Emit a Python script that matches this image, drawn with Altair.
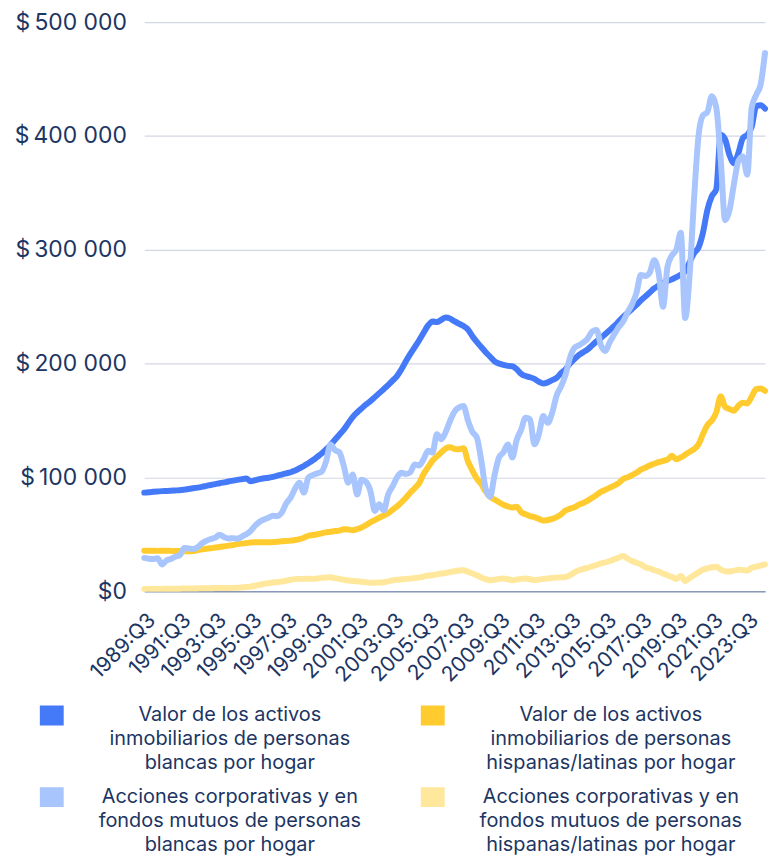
import altair as alt
import pandas as pd

# quarters from 1989:Q3 to 2024:Q3
quarters = [f"{1989 + (i + 2) // 4}:Q{(i + 2) % 4 + 1}" for i in range(141)]
tick_labels = quarters[::8]

series_names = [
    "Valor de los activos|inmobiliarios de personas|blancas por hogar",
    "Valor de los activos|inmobiliarios de personas|hispanas/latinas por hogar",
    "Acciones corporativas y en|fondos mutuos de personas|blancas por hogar",
    "Acciones corporativas y en|fondos mutuos de personas|hispanas/latinas por hogar",
]
colors = ["#4479f7", "#ffcb2f", "#a8c5fe", "#ffe79c"]

# values in thousands of dollars
white_real_estate = [
    86.6, 87, 87.3, 87.6, 87.9, 88.1, 88.3, 88.5, 88.7, 89.2,
    89.8, 90.4, 91, 91.7, 92.5, 93.3, 94.1, 94.8, 95.6, 96.4,
    97.1, 97.8, 98.4, 99, 96.5, 97.5, 98.5, 99.2, 99.7, 100.5,
    101.5, 102.5, 103.5, 104.5, 106, 108, 110, 112.5, 115, 118,
    121, 124.5, 128.5, 133, 137.5, 142, 147.5, 153, 157, 160.5,
    164, 167, 170.5, 174, 177.5, 181, 185, 189, 195, 202,
    208.5, 214.5, 220.5, 227, 233.5, 237, 236.5, 238.5, 240.5, 239.5,
    237, 235, 233, 230, 224, 219, 214.5, 210, 206, 202,
    200, 198.8, 198, 197.6, 195, 191, 189, 188, 186.5, 184,
    182.5, 183.5, 185.5, 187.5, 191.5, 195, 200, 204, 207.5, 210,
    212.5, 216, 219.5, 222.5, 226, 229.5, 233, 237, 241, 244.5,
    248, 251.5, 255.5, 259, 262.5, 266, 268.5, 271, 272.5, 274,
    276, 278, 281, 289, 297, 302, 315, 335, 347, 353,
    401, 397, 383, 376, 385, 398, 401, 408, 426, 427,
    424,
]
hispanic_real_estate = [
    35.6, 35.5, 35.5, 35.4, 35.5, 35.5, 35.4, 35.3, 35.2, 35.1,
    35, 35.2, 36, 36.8, 37.2, 37.7, 38.3, 38.8, 39.4, 40,
    40.6, 41.3, 41.8, 42.2, 42.8, 43, 42.9, 42.9, 42.9, 43.1,
    43.4, 43.8, 44.1, 44.4, 45, 45.8, 47, 48.7, 49.3, 50,
    50.8, 51.7, 52.2, 52.8, 53.2, 54.5, 54.2, 53.6, 54.5, 56,
    58, 60.5, 62.5, 64.5, 66.5, 68.5, 71.5, 74.5, 78, 82,
    86.5, 90.5, 95, 103, 109, 114.6, 118.5, 122, 125.5, 126.5,
    125, 124.8, 125.5, 114, 106, 99, 94, 87.5, 83, 80.5,
    78.1, 76, 74.5, 73.5, 74.3, 69.4, 67.5, 66, 65, 63.5,
    62, 62.5, 63.5, 65, 67.5, 70.8, 72.5, 73.7, 76, 77.5,
    79.5, 82, 84.5, 87.3, 89, 91, 92.8, 95, 98.5, 100,
    102, 104, 106.8, 108.5, 110.5, 112, 113.4, 114.5, 115.6, 118.9,
    116, 117.5, 119.9, 122.5, 124.8, 129, 138, 146, 150, 157,
    171, 162, 160, 158.5, 163, 165.5, 165, 171, 177.5, 178,
    176,
]
white_stocks = [
    29.2, 28.5, 28.3, 29, 23.5, 27, 28.3, 30.3, 31.5, 37.9,
    37.5, 37, 38.5, 42, 44.3, 45.8, 47, 49.6, 47.5, 46.3,
    46.6, 46, 48, 50, 53, 57.5, 61, 63, 64.5, 66.2,
    66, 69, 77, 82.2, 90, 95.3, 86.6, 99.7, 102, 103.5,
    105, 114, 129, 124, 122, 110, 95.3, 102.6, 85, 98,
    96, 88, 70.5, 76.4, 71, 85, 92, 100, 104, 103,
    104.5, 111.4, 110.5, 116, 123.3, 121.8, 138, 133.5, 140, 150,
    158, 161.5, 162.7, 150, 140, 135, 115, 90, 83, 102,
    117.5, 122, 129, 117.5, 133, 142, 152.5, 151, 129, 138,
    154, 148, 156.8, 172, 180, 190, 205, 213.7, 216, 218.5,
    222, 228, 229.5, 216, 211, 219, 225.7, 232, 237, 245,
    252, 262, 277.9, 277, 280, 290.9, 280, 250, 285, 295,
    300, 315, 240, 278, 345, 400, 418, 421, 435, 425,
    380, 326, 335, 358, 378, 382, 366, 425, 436, 445,
    473,
]
hispanic_stocks = [
    2, 2, 2, 2, 2, 2.1, 2.1, 2.2, 2.2, 2.3,
    2.3, 2.4, 2.4, 2.5, 2.5, 2.6, 2.7, 2.7, 2.8, 2.8,
    2.9, 3, 3.3, 3.6, 4, 4.8, 5.6, 6.4, 7, 7.6,
    7.9, 8.5, 9.2, 10, 10.6, 10.8, 10.8, 10.9, 10.8, 11.2,
    11.7, 12, 12.2, 11.5, 10.8, 10, 9.3, 9, 8.7, 8.3,
    7.8, 7.4, 7.3, 7.6, 7.9, 8.6, 9.5, 10, 10.4, 10.8,
    11, 11.5, 12, 12.8, 13.7, 14, 14.8, 15.5, 16, 16.8,
    17.5, 18.2, 18.4, 17, 15.5, 14, 12, 10.5, 9.6, 10,
    10.8, 11.1, 10.5, 9.6, 10.2, 10.8, 11.1, 10.5, 9.6, 10.2,
    10.8, 11.2, 11.7, 11.9, 12.2, 12.5, 14, 16.5, 18.4, 19.5,
    20.5, 21.8, 23, 24.4, 25.3, 26.5, 28, 29.5, 31, 28.5,
    26.5, 25, 23.5, 21, 19.9, 18.5, 17.3, 15.5, 14, 12.5,
    10.7, 13.4, 9, 11.5, 14, 16.5, 18.9, 20, 21, 21.5,
    19, 17.5, 17.3, 18, 18.9, 18.5, 18.2, 20.5, 21.5, 22.5,
    23.5,
]

all_series = [white_real_estate, hispanic_real_estate, white_stocks, hispanic_stocks]
draw_order = [3, 1, 0, 2]  # light blue drawn last (on top)
rows = []
for k in draw_order:
    for q, v in zip(quarters, all_series[k]):
        rows.append({"quarter": q, "series": series_names[k], "value": v * 1000})
df = pd.DataFrame(rows)

FONT = "Inter"
NAVY = "#1c3563"

chart = (
    alt.Chart(df)
    .mark_line(strokeWidth=6, strokeCap="round", strokeJoin="round", interpolate="monotone")
    .encode(
        x=alt.X(
            "quarter:O",
            scale=alt.Scale(type="point", padding=0),
            title=None,
            axis=alt.Axis(
                values=tick_labels,
                labelAngle=-45,
                labelAlign="right",
                labelBaseline="top",
                labelPadding=18,
                labelFontSize=21,
                labelFont=FONT,
                labelColor=NAVY,
                ticks=False,
                grid=False,
                domainColor="#8a97b8",
                domainWidth=1.5,
                labelOverlap=False,
            ),
        ),
        y=alt.Y(
            "value:Q",
            scale=alt.Scale(domain=[0, 500000], nice=False),
            title=None,
            axis=alt.Axis(
                values=[0, 100000, 200000, 300000, 400000, 500000],
                labelExpr="datum.value == 0 ? '$0' : '$\u2009' + format(datum.value / 1000, 'd') + ' 000'",
                labelPadding=18,
                labelFontSize=23,
                labelFont=FONT,
                labelColor=NAVY,
                ticks=False,
                domain=False,
                gridColor="#d3d7e2",
                gridWidth=1.2,
            ),
        ),
        color=alt.Color(
            "series:N",
            scale=alt.Scale(domain=series_names, range=colors),
            title=None,
            legend=alt.Legend(
                orient="none",
                direction="horizontal",
                legendX=-106,
                legendY=684,
                columns=2,
                columnPadding=50,
                rowPadding=2,
                symbolType="M-0.9,-1V1M-0.3,-1V1M0.3,-1V1M0.9,-1V1",
                symbolSize=400,
                symbolStrokeWidth=6,
                symbolOpacity=1,
                labelExpr="split(datum.label, '|')",
                labelAlign="center",
                labelOffset=166,
                labelFontSize=20,
                labelFont=FONT,
                labelColor=NAVY,
                labelLimit=0,
            ),
        ),
    )
    .properties(
        width=624,
        height=572,
        padding={"left": 6, "top": 1, "right": 0, "bottom": 0},
    )
    .configure(view=alt.ViewConfig(stroke=None), style={"guide-label": {"lineHeight": 24}})
)

chart.save("out.html", embed_options={"renderer": "svg", "actions": False})
